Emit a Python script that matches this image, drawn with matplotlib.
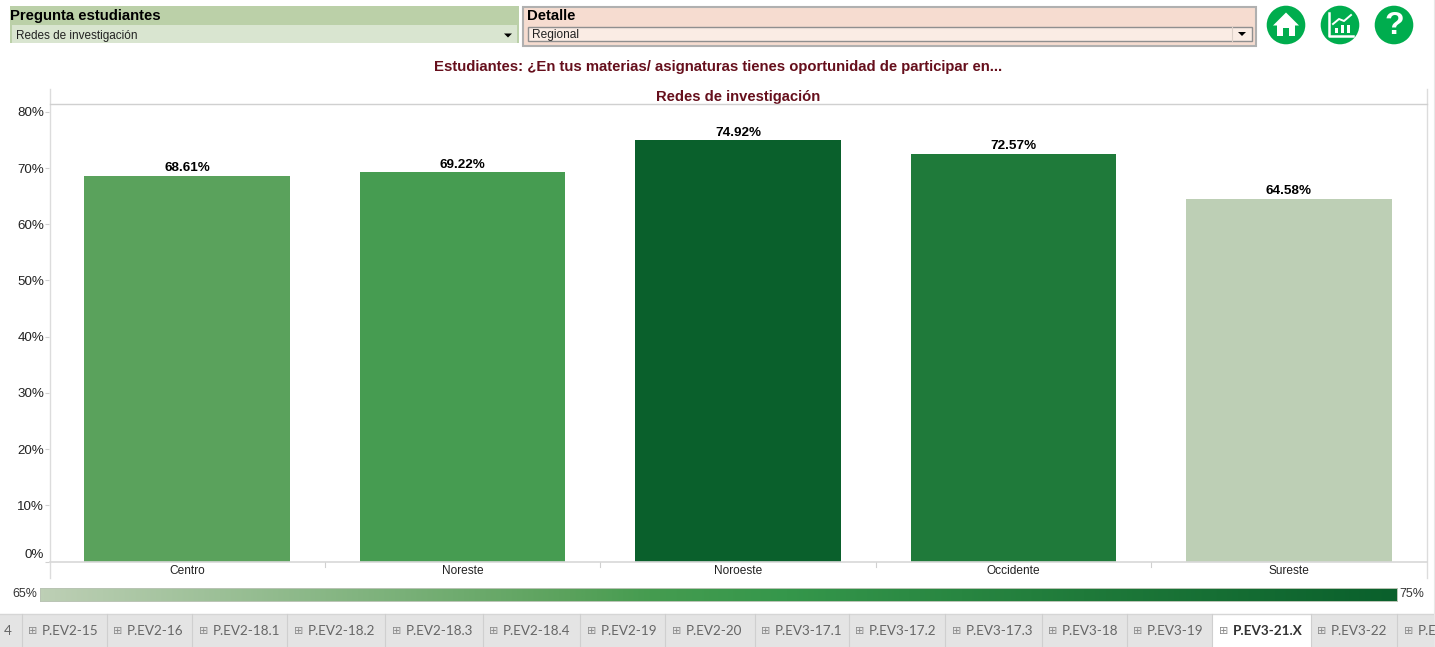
import matplotlib
matplotlib.use("Agg")
import matplotlib.pyplot as plt
import numpy as np
from matplotlib.colors import LinearSegmentedColormap, Normalize
from matplotlib.patches import Rectangle, Circle, Polygon

plt.rcParams["font.family"] = ["Liberation Sans", "DejaVu Sans"]

regions = ["Centro", "Noreste", "Noroeste", "Occidente", "Sureste"]
values = [68.61, 69.22, 74.92, 72.57, 64.58]
y_ticks = [0, 10, 20, 30, 40, 50, 60, 70, 80]
tabs = ["4", "P.EV2-15", "P.EV2-16", "P.EV2-18.1", "P.EV2-18.2", "P.EV2-18.3", "P.EV2-18.4",
        "P.EV2-19", "P.EV2-20", "P.EV3-17.1", "P.EV3-17.2", "P.EV3-17.3", "P.EV3-18",
        "P.EV3-19", "P.EV3-21.X", "P.EV3-22", "P.E"]
active_tab = "P.EV3-21.X"

# tab separators, in pixels
tab_edges = [0, 21.5, 106.5, 192, 287, 385, 482.5, 580, 665, 754.5, 848.5, 945, 1041.5,
             1126.5, 1212, 1310.5, 1397, 1434]

W, H = 1435, 647
DARK_RED = "#660f1c"

cmap = LinearSegmentedColormap.from_list("greens", [
    (0.0, "#bdcfb5"), (0.39, "#5aa25c"), (0.45, "#459c50"),
    (0.55, "#35974b"), (0.77, "#1f7a3a"), (1.0, "#0a602c")])
norm = Normalize(min(values), max(values))


def px_axes(fig, x0, y0, x1, y1):
    # axes placed with pixel edges, y counted from the top
    return fig.add_axes([x0 / W, 1 - y1 / H, (x1 - x0) / W, (y1 - y0) / H])


fig = plt.figure(figsize=(W / 100, H / 100), dpi=100, facecolor="white")

# overlay for the dashboard furniture, in pixel coordinates
ui = fig.add_axes([0, 0, 1, 1])
ui.set_xlim(0, W)
ui.set_ylim(H, 0)
ui.axis("off")

# main chart
ax = px_axes(fig, 49.5, 104, 1426.5, 561.5)
ax.set_xlim(-0.5, 4.5)
ax.set_ylim(0, 81.4)
ax.bar(regions, values, width=0.747, color=[cmap(norm(v)) for v in values], zorder=2)
for i, v in enumerate(values):
    ax.text(i, v + 0.3, f"{v:.2f}%", ha="center", va="bottom", fontsize=9.7,
            fontweight="bold", color="black")
ax.set_yticks(y_ticks)
ax.set_yticklabels([f"{t}%" for t in y_ticks], fontsize=9.6, color="#222222")
ax.get_yticklabels()[0].set_verticalalignment("bottom")
ax.tick_params(axis="y", length=3, width=0.8, color="#d0d0d0", pad=1)
ax.tick_params(axis="x", length=0, labelsize=8.6, labelcolor="#222222", pad=2.6)
ax.patch.set_alpha(0)
for side in ax.spines:
    ax.spines[side].set_visible(False)
ax.spines["bottom"].set_visible(True)
ax.spines["bottom"].set_color("#d8d8d8")
ax.spines["bottom"].set_linewidth(1.2)
ax.spines["top"].set_visible(True)
ax.spines["top"].set_color("#d0d0d0")
ax.spines["top"].set_linewidth(1.0)
for sep in np.arange(0.5, 4.5):
    ax.plot([sep, sep], [0, -0.9], color="#d0d0d0", lw=0.8, clip_on=False)

# frame lines running past the axes
for x in (49.5, 1426.5):
    ui.plot([x, x], [89, 578], color="#dcdcdc", lw=1)

# titles
ui.text(718.5, 67, "Estudiantes: ¿En tus materias/ asignaturas tienes oportunidad de participar en...",
        ha="center", va="center", fontsize=10.75, fontweight="bold", color=DARK_RED)
ui.text(738, 97, "Redes de investigación", ha="center", va="center", fontsize=10.65,
        fontweight="bold", color=DARK_RED)

# left filter
ui.add_patch(Rectangle((10, 6), 509, 37, fc="#bbd0a8", ec="none"))
ui.add_patch(Rectangle((12, 25), 505, 18, fc="#d9e5d0", ec="none"))
ui.text(10.5, 16, "Pregunta estudiantes", ha="left", va="center", fontsize=10.75, fontweight="bold",
        color="black")
ui.text(16, 36, "Redes de investigación", ha="left", va="center", fontsize=8.5, color="#222222")
ui.add_patch(Polygon([(504, 33.5), (512, 33.5), (508, 37.5)], fc="black", ec="none"))

# right filter
ui.add_patch(Rectangle((523, 7), 733, 39, fc="#f6dcd0", ec="#b0b0b0", lw=1.5))
ui.add_patch(Rectangle((528, 26.5), 723.5, 14.5, fc="#faece4", ec="#8f8f8f", lw=1))
ui.plot([1232, 1232], [27, 41], color="#dcd0c8", lw=0.8)
ui.text(526.5, 16, "Detalle", ha="left", va="center", fontsize=10.75, fontweight="bold", color="black")
ui.text(532, 35, "Regional", ha="left", va="center", fontsize=8.6, color="#222222")
ui.add_patch(Polygon([(1238, 32), (1246, 32), (1242, 36)], fc="black", ec="none"))

# round buttons
GREEN = "#00ad4e"
for cx in (1286, 1340, 1394):
    ui.add_patch(Circle((cx, 25), 19.3, fc=GREEN, ec="none"))
ui.add_patch(Polygon([(1286, 12.5), (1299, 25.5), (1295, 25.5), (1295, 36), (1289, 36), (1289, 28),
                      (1283, 28), (1283, 36), (1277, 36), (1277, 25.5), (1273, 25.5)],
                     fc="white", ec="none"))
ui.plot([1329, 1329, 1353], [13, 36, 36], color="white", lw=1.8)
ui.plot([1333, 1339, 1344, 1351], [24, 19, 21, 15], color="white", lw=1.4)
for bx, by in ((1335, 28), (1341, 25), (1347, 25)):
    ui.add_patch(Rectangle((bx, by), 3, 33 - by, fc="white", ec="none"))
ui.text(1394.5, 26.5, "?", ha="center", va="center", fontsize=23, fontweight="bold", color="white")

# colour legend
ui.text(37, 594, "65%", ha="right", va="center", fontsize=8.9, color="#333333")
ui.text(1399.5, 594, "75%", ha="left", va="center", fontsize=8.9, color="#333333")
leg = px_axes(fig, 40, 588, 1397, 600.5)
leg.imshow(np.linspace(0, 1, 512).reshape(1, -1), cmap=cmap, aspect="auto")
leg.set_xticks([])
leg.set_yticks([])
for side in leg.spines:
    leg.spines[side].set_color("#b9c4b4")
    leg.spines[side].set_linewidth(0.7)

# tab strip
ui.add_patch(Rectangle((0, 614), 1434, 33, fc="#e4e4e4", ec="none"))
ui.plot([0, 1434], [613.5, 613.5], color="#d6d6d6", lw=1)
tab_font = ["Lato", "DejaVu Sans"]
for i, name in enumerate(tabs):
    left, right = tab_edges[i], tab_edges[i + 1]
    is_active = name == active_tab
    if is_active:
        ui.add_patch(Rectangle((left, 614), right - left, 33, fc="white", ec="none"))
    if i > 0:
        ui.plot([left, left], [614, 647], color="#cfcfcf", lw=0.8)
    if name == "4":
        ui.text(8, 631, name, ha="center", va="center", fontsize=9.7, color="#666666", family=tab_font)
        continue
    ui.text(left + 11.5, 630.5, "⊞", ha="center", va="center", fontsize=8, color="#8a8a8a",
            family="DejaVu Sans")
    ui.text(left + 20.5, 631, name, ha="left", va="center", fontsize=9.7,
            color="#333333" if is_active else "#666666",
            fontweight="bold" if is_active else "normal", family=tab_font)
ui.plot([1433.5, 1433.5], [0, 647], color="#e8e8e8", lw=0.8)

fig.savefig("out.png", dpi=100)
plt.close(fig)
